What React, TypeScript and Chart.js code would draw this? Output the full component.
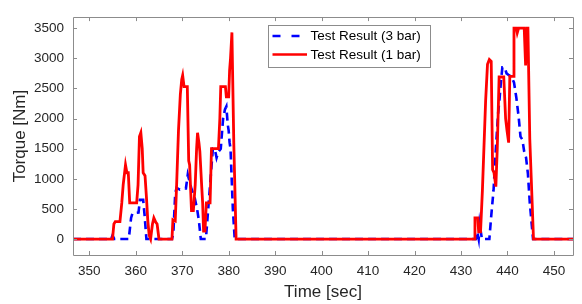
import React, { useEffect, useRef } from "react";
import { Chart, registerables } from "chart.js";

Chart.register(...registerables);

// Time axis ticks
const xTicks = [350, 360, 370, 380, 390, 400, 410, 420, 430, 440, 450];
const yTicks = [0, 500, 1000, 1500, 2000, 2500, 3000, 3500];

// Test Result (1 bar) - red solid
const redTime = [
  346.5, 355.0, 355.3, 355.6, 356.6, 357.0, 357.3, 357.8, 358.1, 358.4, 358.7, 360.2, 360.5, 360.8, 361.1, 361.4, 361.6, 362.0, 362.3, 362.6, 362.9, 363.2, 363.6, 363.9, 364.3, 364.6, 365.0,
  367.8, 368.0, 368.5, 368.8, 369.2, 369.6, 369.9, 370.1, 370.4, 371.1, 371.4, 371.6, 372.0, 372.4, 372.8, 373.1, 373.3, 373.6, 373.8, 374.2, 374.4, 374.6, 374.9, 375.2, 376.0, 376.3, 377.8, 378.1, 378.3, 379.3, 379.5, 380.0, 380.2, 380.4, 380.7, 381.1, 381.6,
  432.8, 433.0, 433.6, 433.8, 434.2, 434.6, 435.3, 435.7, 436.1, 436.5, 436.8, 437.1, 437.5, 437.8, 438.2, 439.2, 439.6, 439.9, 440.25, 440.5, 441.2, 441.4, 441.9, 442.1, 442.4, 443.6, 443.9, 444.2, 444.4, 444.8, 445.6,
  454.1,
];
const redTorque = [
  0, 0, 250, 290, 290, 600, 900, 1230, 1100, 1100, 600, 600, 900, 1700, 1765, 1500, 1100, 1050, 700, 300, 60, 0, 250, 350, 280, 250, 0,
  0, 320, 300, 900, 1800, 2400, 2650, 2717, 2530, 2530, 1300, 1230, 470, 470, 900, 1500, 1765, 1600, 1450, 870, 600, 130, 130, 600, 600, 1500, 1500, 2000, 2530, 2530, 2360, 2360, 2800, 3000, 3430, 1600, 0,
  0, 350, 350, 120, 120, 800, 2300, 2900, 2980, 2950, 1150, 1100, 870, 1500, 2690, 2690, 2000, 1800, 1600, 2700, 2700, 3500, 3500, 3420, 3500, 3500, 2880, 3500, 3500, 1660, 0,
  0,
];

// Test Result (3 bar) - blue dashed
const blueTime = [
  346.5, 354.7, 355.0, 355.4, 358.5, 359.0, 359.3, 360.6, 360.9, 361.6, 361.9, 362.3,
  367.8, 368.1, 368.5, 368.8, 369.5, 370.2, 370.8, 371.2, 371.6, 372.0, 372.7, 373.2, 373.6, 374.0, 375.1, 375.5, 375.9, 376.3, 376.6, 377.0, 377.4, 377.8, 378.3, 378.8, 379.2, 379.5, 379.8, 380.0, 380.2, 380.4, 380.6, 380.9, 381.3,
  433.2, 433.5, 433.8, 434.0, 434.5, 436.1, 436.5, 437.0, 437.5, 438.0, 438.3, 438.6, 438.9, 439.4, 439.8, 440.3, 440.8, 441.4, 441.9, 442.4, 442.8, 443.2, 443.6, 444.0, 444.4, 444.8, 445.5,
  454.1,
];
const blueTorque = [
  0, 0, 60, 0, 0, 350, 430, 440, 650, 650, 400, 0,
  0, 100, 760, 850, 820, 840, 840, 1070, 950, 830, 680, 500, 300, 0, 0, 400, 800, 1200, 1500, 1500, 1350, 1450, 1500, 2000, 2150, 2200, 1900, 1800, 1600, 1500, 1100, 500, 0,
  0, 120, 0, 250, 0, 0, 380, 810, 1500, 2100, 2330, 2620, 2850, 2850, 2750, 2720, 2700, 2600, 2350, 2030, 1700, 1650, 1450, 1350, 1080, 600, 0,
  0,
];

const seriesLabels = ["Test Result (3 bar)", "Test Result (1 bar)"];

const X_MIN = 346.5;
const X_MAX = 454.1;
const Y_MIN = -265;
const Y_MAX = 3684;

const toPoints = (xs: number[], ys: number[]) => xs.map((x, i) => ({ x, y: ys[i] }));

const framePlugin = {
  id: "frame",
  afterDraw(chart: any) {
    const { ctx, chartArea } = chart;
    const { left, right, top, bottom } = chartArea;
    const xs = chart.scales.x;
    const ys = chart.scales.y;
    ctx.save();
    ctx.strokeStyle = "#8c8c8c";
    ctx.lineWidth = 1;
    ctx.beginPath();
    ctx.rect(Math.round(left) + 0.5, Math.round(top) + 0.5, Math.round(right - left), Math.round(bottom - top));
    ctx.stroke();
    const tl = 4;
    ctx.beginPath();
    xTicks.forEach((t) => {
      const px = Math.round(xs.getPixelForValue(t)) + 0.5;
      ctx.moveTo(px, bottom);
      ctx.lineTo(px, bottom - tl);
      ctx.moveTo(px, top);
      ctx.lineTo(px, top + tl);
    });
    yTicks.forEach((t) => {
      const py = Math.round(ys.getPixelForValue(t)) + 0.5;
      ctx.moveTo(left, py);
      ctx.lineTo(left + tl, py);
      ctx.moveTo(right, py);
      ctx.lineTo(right - tl, py);
    });
    ctx.stroke();

    // legend box
    const lx = 268, ly = 25, lw = 162, lh = 42;
    ctx.fillStyle = "#ffffff";
    ctx.fillRect(lx, ly, lw, lh);
    ctx.strokeStyle = "#8c8c8c";
    ctx.strokeRect(lx + 0.5, ly + 0.5, lw, lh);
    const rows = [
      { y: 36, color: "#0000ff", dash: [8, 11] },
      { y: 54.5, color: "#ff0000", dash: [] as number[] },
    ];
    ctx.lineWidth = 2.5;
    rows.forEach((r, i) => {
      ctx.strokeStyle = r.color;
      ctx.setLineDash(r.dash);
      ctx.beginPath();
      ctx.moveTo(272.5, r.y);
      ctx.lineTo(307, r.y);
      ctx.stroke();
      ctx.setLineDash([]);
      ctx.fillStyle = "#000000";
      ctx.font = "13.5px 'Liberation Sans', Arial, sans-serif";
      ctx.textBaseline = "middle";
      ctx.textAlign = "left";
      ctx.fillText(seriesLabels[i], 310.5, r.y + 0.5);
    });
    ctx.restore();
  },
};

export default function App() {
  const ref = useRef<HTMLCanvasElement | null>(null);
  useEffect(() => {
    document.body.style.margin = "0";
    const canvas = ref.current;
    if (!canvas) return;
    const font = { family: "'Liberation Sans', Arial, sans-serif", size: 13.5 };
    const chart = new Chart(canvas, {
      type: "line",
      data: {
        datasets: [
          {
            label: seriesLabels[1],
            data: toPoints(redTime, redTorque),
            borderColor: "#ff0000",
            borderWidth: 2.8,
            pointRadius: 0,
            tension: 0,
            fill: false,
          },
          {
            label: seriesLabels[0],
            data: toPoints(blueTime, blueTorque),
            borderColor: "#0000ff",
            borderWidth: 2.6,
            borderDash: [8, 5],
            pointRadius: 0,
            tension: 0,
            fill: false,
          },
        ],
      },
      options: {
        animation: false,
        responsive: false,
        parsing: false as any,
        layout: { padding: { top: 6, right: 9, left: 0, bottom: 0 } },
        plugins: { legend: { display: false }, tooltip: { enabled: false } },
        scales: {
          x: {
            type: "linear",
            min: X_MIN,
            max: X_MAX,
            afterBuildTicks: (s: any) => {
              s.ticks = xTicks.map((v) => ({ value: v }));
            },
            afterFit: (s: any) => {
              s.height = 49;
            },
            grid: { display: false, drawTicks: false },
            border: { display: false },
            ticks: {
              font,
              color: "#262626",
              padding: 8,
              maxRotation: 0,
              autoSkip: false,
              callback: (v: any) => String(v),
            },
            title: {
              display: true,
              text: "Time [sec]",
              font: { family: font.family, size: 17 },
              color: "#262626",
              padding: { top: 0, bottom: 1 },
            },
          },
          y: {
            type: "linear",
            min: Y_MIN,
            max: Y_MAX,
            afterBuildTicks: (s: any) => {
              s.ticks = yTicks.map((v) => ({ value: v }));
            },
            afterFit: (s: any) => {
              s.width = 73;
            },
            grid: { display: false, drawTicks: false },
            border: { display: false },
            ticks: {
              font,
              color: "#262626",
              padding: 9,
              autoSkip: false,
              callback: (v: any) => String(v),
            },
            title: {
              display: true,
              text: "Torque [Nm]",
              font: { family: font.family, size: 17 },
              color: "#262626",
              padding: { top: 10, bottom: 0 },
            },
          },
        },
      },
      plugins: [framePlugin],
    });
    return () => chart.destroy();
  }, []);
  return (
    <div style={{ position: "absolute", left: 0, top: 0, width: 582, height: 304, background: "#fff" }}>
      <canvas ref={ref} width={582} height={304} />
    </div>
  );
}
